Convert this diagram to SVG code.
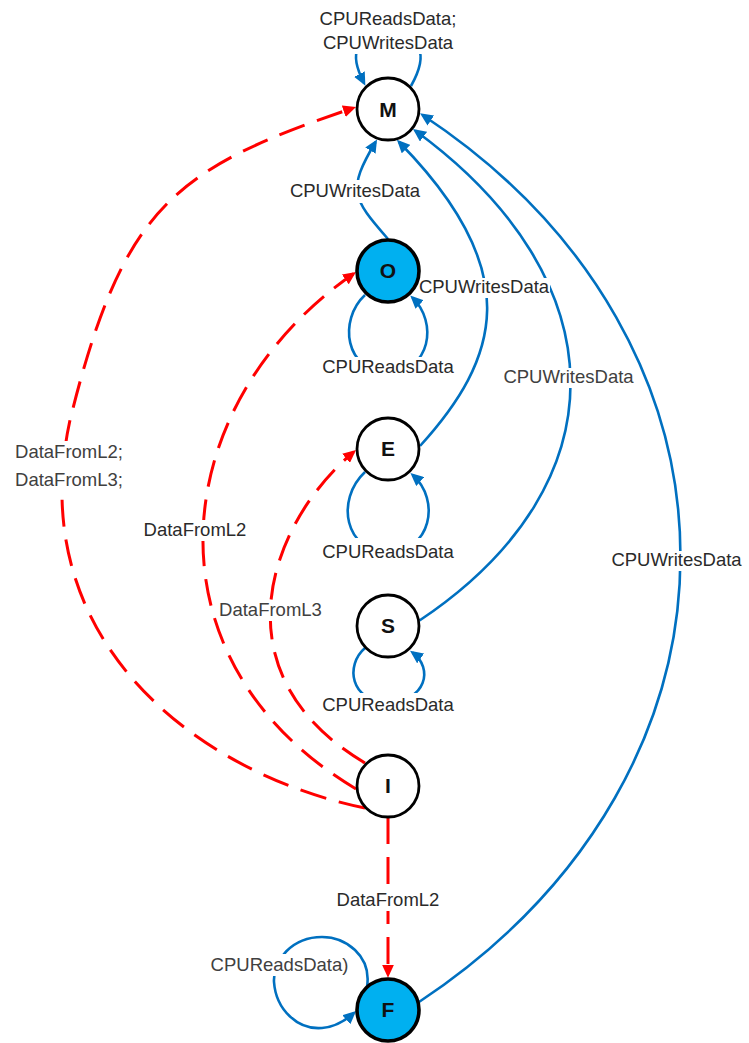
<svg xmlns="http://www.w3.org/2000/svg" width="749" height="1043" viewBox="0 0 749 1043">
  <defs>
    <marker id="arrowBlue" markerUnits="userSpaceOnUse" markerWidth="14" markerHeight="12" refX="10" refY="6" orient="auto">
      <path d="M0,0 L13,6 L0,12 z" fill="#0070C0"/>
    </marker>
    <marker id="arrowRed" markerUnits="userSpaceOnUse" markerWidth="14" markerHeight="12" refX="10" refY="6" orient="auto">
      <path d="M0,0 L13,6 L0,12 z" fill="#FF0000"/>
    </marker>
  </defs>
  <style>
    .cpu { fill: none; stroke: #0070C0; stroke-width: 2.6; marker-end: url(#arrowBlue); }
    .data { fill: none; stroke: #FF0000; stroke-width: 3; stroke-dasharray: 27 13; marker-end: url(#arrowRed); }
    .lbl { font-family: "Liberation Sans", Arial, sans-serif; font-size: 18.5px; fill: #2a2a2a; text-anchor: middle; }
    .gray { fill: #404040; }
    .bg { fill: #ffffff; }
    .state { fill: #ffffff; stroke: #000000; stroke-width: 2.8; }
    .state.active { fill: #00B0F0; stroke-width: 3.6; }
    .name { font-family: "Liberation Sans", Arial, sans-serif; font-size: 21px; font-weight: bold; fill: #111111; text-anchor: middle; }
  </style>

  <!-- transitions -->
  <g id="connectors">
    <!-- CPU driven transitions -->
    <path id="M-self" class="cpu" d="M411,86 C430,52 420,36 388,36 C356,36 348,52 364,83"/>
    <path id="O-M" class="cpu" d="M388,239 C352,198 347,190 375.5,142"/>
    <path id="E-M" class="cpu" d="M420,446 C499,359 527,272 399,142"/>
    <path id="S-M" class="cpu" d="M419.5,620.5 C625,483 618,279 415.4,130.8"/>
    <path id="F-M" class="cpu" d="M419,1002 C767,771 767,343 422.5,115"/>
    <path id="O-self" class="cpu" d="M365,295 C338,320 345,372 388,372 C431,372 438,322 412.4,297.6"/>
    <path id="E-self" class="cpu" d="M365,472 C335,500 345,552 388,552 C431,552 441,500 412.7,475"/>
    <path id="S-self" class="cpu" d="M365,648 C345,665 350,702 388,702 C426,702 434,668 412.5,652.6"/>
    <path id="F-self" class="cpu" d="M367,987 C372,955 345,937 322,937 C292,937 273,960 274,982 C276,1010 298,1030 322,1028 C335,1027 345,1021 353.8,1013.1"/>

    <!-- fills from the lower cache levels -->
    <path id="I-M" class="data" d="M365,808 C198,774 22,640 70,420 C123,207 173,169 353.2,108"/>
    <path id="I-O" class="data" d="M356,789 C140,660 165,405 353.5,273.7"/>
    <path id="I-E" class="data" d="M365,763 C215,674 268,524 353.7,451.9"/>
    <path id="I-F" class="data" d="M388,817 L388,974.7"/>

    <!-- transition labels -->
    <g id="lbl-M-self">
      <rect class="bg" x="318" y="8" width="140" height="46"/>
      <text class="lbl" x="388" y="25">CPUReadsData;</text>
      <text class="lbl" x="388" y="49">CPUWritesData</text>
    </g>
    <g id="lbl-O-M">
      <rect class="bg" x="287" y="180" width="136" height="23"/>
      <text class="lbl" x="355" y="197">CPUWritesData</text>
    </g>
    <g id="lbl-E-M">
      <rect class="bg" x="417" y="278" width="133" height="20"/>
      <text class="lbl" x="484" y="293">CPUWritesData</text>
    </g>
    <g id="lbl-O-self">
      <rect class="bg" x="321" y="357" width="134" height="22"/>
      <text class="lbl" x="388" y="373">CPUReadsData</text>
    </g>
    <g id="lbl-S-M">
      <rect class="bg" x="501" y="368" width="135" height="20"/>
      <text class="lbl gray" x="568.5" y="383">CPUWritesData</text>
    </g>
    <g id="lbl-I-M">
      <rect class="bg" x="13" y="441" width="112" height="51"/>
      <text class="lbl gray" x="69" y="458">DataFromL2;</text>
      <text class="lbl gray" x="69" y="486">DataFromL3;</text>
    </g>
    <g id="lbl-E-self">
      <rect class="bg" x="321" y="538" width="134" height="25"/>
      <text class="lbl" x="388" y="558">CPUReadsData</text>
    </g>
    <g id="lbl-I-O">
      <rect class="bg" x="141" y="520" width="108" height="21"/>
      <text class="lbl" x="195" y="536">DataFromL2</text>
    </g>
    <g id="lbl-F-M">
      <rect class="bg" x="608" y="551" width="137" height="20"/>
      <text class="lbl" x="676.5" y="566">CPUWritesData</text>
    </g>
    <g id="lbl-I-E">
      <rect class="bg" x="217" y="600" width="107" height="21"/>
      <text class="lbl gray" x="270.5" y="616">DataFromL3</text>
    </g>
    <g id="lbl-S-self">
      <rect class="bg" x="321" y="693" width="134" height="23"/>
      <text class="lbl" x="388" y="711">CPUReadsData</text>
    </g>
    <g id="lbl-I-F">
      <rect class="bg" x="333" y="889" width="110" height="22"/>
      <text class="lbl" x="388" y="906">DataFromL2</text>
    </g>
    <g id="lbl-F-self">
      <rect class="bg" x="211" y="954" width="137" height="22"/>
      <text class="lbl gray" x="279.5" y="971">CPUReadsData)</text>
    </g>
  </g>

  <!-- cache line states -->
  <g id="node-M">
    <circle class="state" cx="388" cy="109" r="31"/>
    <text class="name" x="388" y="117">M</text>
  </g>
  <g id="node-O">
    <circle class="state active" cx="388" cy="271" r="31"/>
    <text class="name" x="388" y="278">O</text>
  </g>
  <g id="node-E">
    <circle class="state" cx="388" cy="449" r="31"/>
    <text class="name" x="388" y="456">E</text>
  </g>
  <g id="node-S">
    <circle class="state" cx="388" cy="626" r="31"/>
    <text class="name" x="388" y="633">S</text>
  </g>
  <g id="node-I">
    <circle class="state" cx="388" cy="786" r="31"/>
    <text class="name" x="388" y="793">I</text>
  </g>
  <g id="node-F">
    <circle class="state active" cx="388" cy="1010" r="31"/>
    <text class="name" x="388" y="1017">F</text>
  </g>
</svg>
